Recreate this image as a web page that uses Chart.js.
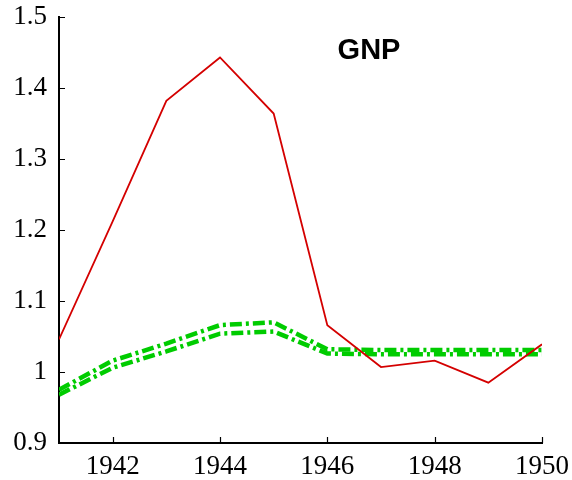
<!DOCTYPE html>
<html>
<head>
<meta charset="utf-8">
<script src="https://cdn.jsdelivr.net/npm/chart.js@4/dist/chart.umd.min.js"></script>
<style>
html,body{margin:0;padding:0;background:#fff;}
#wrap{width:572px;height:480px;position:relative;}
</style>
</head>
<body>
<div id="wrap"><canvas id="c" width="572" height="480"></canvas></div>
<script>
const years = [1941, 1942, 1943, 1944, 1945, 1946, 1947, 1948, 1949, 1950];
const gnpActual = [1.046, 1.212, 1.382, 1.443, 1.364, 1.066, 1.007, 1.016, 0.985, 1.039];
const gnpModelA = [0.975, 1.016, 1.040, 1.066, 1.070, 1.032, 1.031, 1.031, 1.031, 1.031];
const gnpModelB = [0.968, 1.006, 1.029, 1.054, 1.057, 1.026, 1.025, 1.025, 1.025, 1.025];
const xTicks = [1942, 1944, 1946, 1948, 1950];
const yTicks = [0.9, 1.0, 1.1, 1.2, 1.3, 1.4, 1.5];
const titleText = "GNP";

const toPts = arr => arr.map((v, i) => ({x: years[i], y: v}));

const innerTicks = {
  id: 'innerTicks',
  afterDraw(chart) {
    const ctx = chart.ctx, xs = chart.scales.x, ys = chart.scales.y;
    const a = chart.chartArea;
    ctx.save();
    ctx.strokeStyle = '#000';
    ctx.lineWidth = 1.2;
    ctx.beginPath();
    xTicks.forEach(t => {
      const px = Math.round(xs.getPixelForValue(t)) + 0.5;
      ctx.moveTo(px, a.bottom);
      ctx.lineTo(px, a.bottom - 6);
    });
    yTicks.forEach(t => {
      const py = Math.round(ys.getPixelForValue(t)) + 0.5;
      ctx.moveTo(a.left, py);
      ctx.lineTo(a.left + 6, py);
    });
    ctx.stroke();
    ctx.fillStyle = '#000';
    ctx.font = 'bold 29px "Liberation Sans", Arial, sans-serif';
    ctx.textAlign = 'center';
    ctx.textBaseline = 'middle';
    ctx.fillText(titleText, 369, 51);
    ctx.restore();
  }
};

new Chart(document.getElementById('c'), {
  type: 'line',
  data: {
    datasets: [
      {label: 'GNP', data: toPts(gnpActual), borderColor: '#d40000', borderWidth: 1.8,
       pointRadius: 0, tension: 0, order: 0},
      {label: 'A', data: toPts(gnpModelA), borderColor: '#00cc00', borderWidth: 4.5,
       borderDash: [12, 4, 3, 4], pointRadius: 0, tension: 0, order: 1},
      {label: 'B', data: toPts(gnpModelB), borderColor: '#00cc00', borderWidth: 4.5,
       borderDash: [12, 4, 3, 4], pointRadius: 0, tension: 0, order: 1}
    ]
  },
  options: {
    responsive: false,
    animation: false,
    devicePixelRatio: 1,
    layout: {padding: {top: 17, right: 30, left: 0, bottom: 0}},
    plugins: {legend: {display: false}, tooltip: {enabled: false}, title: {display: false}},
    scales: {
      x: {
        type: 'linear', min: 1941, max: 1950,
        afterBuildTicks: s => { s.ticks = xTicks.map(v => ({value: v})); },
        afterFit: s => { s.height = 37; s.paddingLeft = 0; s.paddingRight = 0; },
        grid: {display: false, drawTicks: false},
        border: {display: true, color: '#000', width: 2},
        ticks: {color: '#000', padding: 8, maxRotation: 0, autoSkip: false,
                font: {family: '"Liberation Serif", "Times New Roman", serif', size: 27},
                callback: v => String(v)}
      },
      y: {
        type: 'linear', min: 0.9, max: 1.5,
        afterBuildTicks: s => { s.ticks = yTicks.map(v => ({value: v})); },
        afterFit: s => { s.width = 59; s.paddingTop = 0; s.paddingBottom = 0; },
        grid: {display: false, drawTicks: false},
        border: {display: true, color: '#000', width: 2},
        ticks: {color: '#000', padding: 12, autoSkip: false,
                font: {family: '"Liberation Serif", "Times New Roman", serif', size: 27},
                callback: v => String(Number(Number(v).toFixed(1)))}
      }
    }
  },
  plugins: [innerTicks]
});
</script>
</body>
</html>
